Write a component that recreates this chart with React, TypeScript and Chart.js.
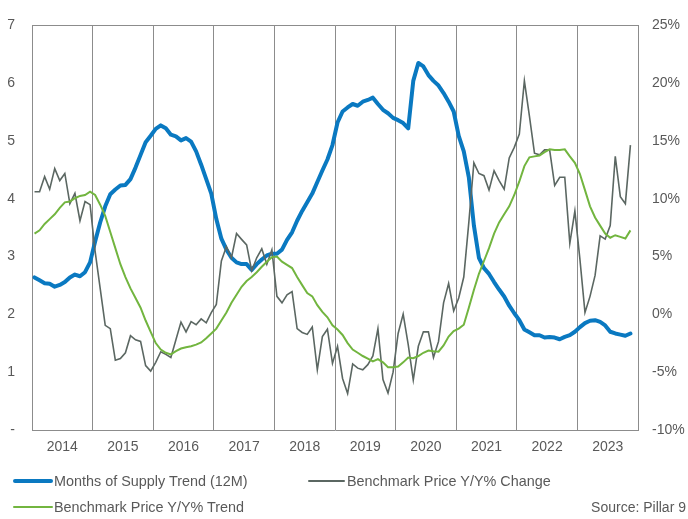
import React, { useEffect, useRef } from 'react';
import { Chart, registerables } from 'chart.js';

Chart.register(...registerables);

// Year labels (one per 12-month segment, Jan 2014 .. Nov 2023 monthly data)
const years = ['2014', '2015', '2016', '2017', '2018', '2019', '2020', '2021', '2022', '2023'];

// Months of Supply Trend (12M) - left axis
const supplyTrend = [
  2.64, 2.59, 2.54, 2.53, 2.48, 2.51, 2.56, 2.64, 2.69, 2.66, 2.73, 2.90,
  3.26, 3.59, 3.87, 4.08, 4.16, 4.23, 4.24, 4.34, 4.54, 4.76, 4.98, 5.09,
  5.21, 5.27, 5.22, 5.11, 5.08, 5.01, 5.05, 4.99, 4.82, 4.59, 4.34, 4.09,
  3.65, 3.31, 3.12, 2.98, 2.90, 2.87, 2.87, 2.77, 2.87, 2.95, 3.02, 3.05,
  3.05, 3.12, 3.29, 3.42, 3.62, 3.79, 3.94, 4.09, 4.29, 4.49, 4.68, 4.93,
  5.32, 5.51, 5.58, 5.64, 5.61, 5.68, 5.71, 5.75, 5.64, 5.54, 5.48, 5.40,
  5.36, 5.31, 5.22, 6.04, 6.35, 6.29, 6.14, 6.04, 5.96, 5.83, 5.68, 5.51,
  5.09, 4.82, 4.37, 3.54, 2.98, 2.80, 2.70, 2.56, 2.43, 2.31, 2.15, 2.02,
  1.90, 1.74, 1.69, 1.64, 1.64, 1.60, 1.61, 1.60, 1.57, 1.61, 1.64, 1.70,
  1.78, 1.85, 1.89, 1.90, 1.87, 1.81, 1.70, 1.67, 1.65, 1.63, 1.67,
];

// Benchmark Price Y/Y% Change - right axis
const priceChange = [
  10.61, 10.61, 11.92, 10.83, 12.61, 11.58, 12.19, 9.58, 10.47, 8.10, 9.77, 9.49,
  5.46, 2.25, -0.95, -1.23, -3.96, -3.82, -3.32, -1.84, -2.20, -2.34, -4.43, -4.90,
  -4.15, -3.23, -3.46, -3.73, -2.20, -0.67, -1.51, -0.62, -0.89, -0.39, -0.73, 0.16,
  0.86, 4.62, 5.87, 4.90, 6.99, 6.49, 6.01, 3.78, 4.90, 5.68, 4.34, 5.59,
  1.56, 1.00, 1.70, 1.97, -1.23, -1.56, -1.73, -1.09, -4.79, -1.92, -1.28, -4.24,
  -2.76, -5.54, -6.85, -4.29, -4.65, -4.79, -4.35, -3.60, -1.23, -5.63, -6.80, -5.00,
  -1.65, 0.03, -2.62, -5.68, -2.76, -1.51, -1.51, -3.73, -2.34, 1.00, 2.67, 0.30,
  1.42, 3.23, 7.96, 13.11, 12.19, 12.00, 10.75, 12.42, 11.58, 10.83, 13.53, 14.45,
  15.60, 20.21, 17.15, 13.95, 13.81, 14.23, 14.23, 11.16, 11.86, 11.86, 6.15, 8.94,
  4.76, 0.16, 1.56, 3.37, 6.79, 6.51, 7.68, 13.67, 10.19, 9.58, 14.64,
];

// Benchmark Price Y/Y% Trend - right axis
const priceTrend = [
  6.99, 7.27, 7.82, 8.24, 8.66, 9.21, 9.69, 9.77, 10.05, 10.25, 10.33, 10.61,
  10.33, 9.49, 8.52, 7.13, 5.73, 4.34, 3.23, 2.25, 1.42, 0.58, -0.53, -1.51,
  -2.48, -3.04, -3.32, -3.46, -3.18, -2.95, -2.84, -2.76, -2.62, -2.43, -2.06, -1.65,
  -1.23, -0.53, 0.16, 1.00, 1.70, 2.39, 2.89, 3.23, 3.65, 4.12, 4.56, 4.95,
  5.00, 4.56, 4.29, 4.01, 3.23, 2.53, 1.84, 1.56, 0.80, 0.22, -0.25, -0.95,
  -1.31, -1.78, -2.48, -3.04, -3.32, -3.60, -3.82, -4.07, -3.87, -4.15, -4.57, -4.57,
  -4.51, -4.15, -3.73, -3.79, -3.60, -3.32, -3.12, -3.18, -3.23, -2.68, -1.92, -1.45,
  -1.23, -0.89, 0.58, 2.11, 3.51, 4.62, 5.73, 6.99, 7.96, 8.66, 9.35, 10.33,
  11.50, 12.83, 13.59, 13.67, 13.75, 14.03, 14.28, 14.23, 14.23, 14.28, 13.67, 13.11,
  12.14, 10.75, 9.35, 8.38, 7.68, 6.99, 6.63, 6.85, 6.71, 6.57, 7.27,
];

const seriesNames = ['Months of Supply Trend (12M)', 'Benchmark Price Y/Y% Change', 'Benchmark Price Y/Y% Trend'];
const sourceText = 'Source: Pillar 9';

const BLUE = '#0a79c1';
const GRAY = '#5b6762';
const GREEN = '#72b53f';
const FRAME = '#8c8c8c';
const TEXT = '#595959';
const FONT = '"Liberation Sans", Arial, sans-serif';

const toPoints = (arr: number[]) => arr.map((v, i) => ({ x: i + 0.5, y: v }));

export default function App() {
  const canvasRef = useRef<HTMLCanvasElement | null>(null);

  useEffect(() => {
    document.body.style.margin = '0';
    const canvas = canvasRef.current;
    if (!canvas) return;
    const font = { family: FONT, size: 14 };
    const chart = new Chart(canvas, {
      type: 'line',
      data: {
        datasets: [
          {
            label: seriesNames[0],
            data: toPoints(supplyTrend),
            yAxisID: 'y',
            borderColor: BLUE,
            borderWidth: 4,
            pointRadius: 0,
            tension: 0,
            borderJoinStyle: 'round',
            borderCapStyle: 'round',
            order: 3,
          },
          {
            label: seriesNames[1],
            data: toPoints(priceChange),
            yAxisID: 'y1',
            borderColor: GRAY,
            borderWidth: 1.6,
            pointRadius: 0,
            tension: 0,
            order: 2,
          },
          {
            label: seriesNames[2],
            data: toPoints(priceTrend),
            yAxisID: 'y1',
            borderColor: GREEN,
            borderWidth: 2,
            pointRadius: 0,
            tension: 0,
            order: 1,
          },
        ],
      },
      options: {
        animation: false,
        responsive: false,
        devicePixelRatio: 1,
        layout: { padding: { top: 11, bottom: 59, left: 0, right: 0 } },
        plugins: { legend: { display: false }, tooltip: { enabled: false } },
        scales: {
          x: {
            type: 'linear',
            min: 0,
            max: years.length * 12,
            afterBuildTicks: (s: any) => {
              const t = [];
              for (let k = 0; k <= years.length * 2; k++) t.push({ value: k * 6 });
              s.ticks = t;
            },
            afterFit: (s: any) => {
              s.height = 30;
            },
            grid: {
              color: (ctx: any) => (ctx.tick && ctx.tick.value % 12 === 0 ? FRAME : 'rgba(0,0,0,0)'),
              drawTicks: false,
              lineWidth: 1,
            },
            border: { display: true, color: FRAME, width: 1 },
            ticks: {
              autoSkip: false,
              maxRotation: 0,
              minRotation: 0,
              padding: 9,
              color: TEXT,
              font,
              callback: (v: any) => (v % 12 === 6 ? years[(v - 6) / 12] : ''),
            },
          },
          y: {
            position: 'left',
            min: 0,
            max: 7,
            afterFit: (s: any) => {
              s.width = 32;
            },
            grid: {
              color: (ctx: any) => (ctx.tick && ctx.tick.value === 7 ? FRAME : 'rgba(0,0,0,0)'),
              drawTicks: false,
            },
            border: { display: true, color: FRAME, width: 1 },
            ticks: {
              stepSize: 1,
              padding: 17,
              color: TEXT,
              font,
              callback: (v: any) => (v === 0 ? '-' : String(v)),
            },
          },
          y1: {
            position: 'right',
            min: -10,
            max: 25,
            afterFit: (s: any) => {
              s.width = 50;
            },
            grid: { display: false, drawTicks: false },
            border: { display: true, color: FRAME, width: 1 },
            ticks: {
              stepSize: 5,
              padding: 14,
              color: TEXT,
              font,
              callback: (v: any) => `${v}%`,
            },
          },
        },
      },
    } as any);
    return () => chart.destroy();
  }, []);

  const textStyle: React.CSSProperties = {
    position: 'absolute',
    fontFamily: FONT,
    fontSize: 14.4,
    color: TEXT,
    lineHeight: '18px',
    whiteSpace: 'nowrap',
  };
  const sample = (left: number, top: number, width: number, height: number, color: string): React.CSSProperties => ({
    position: 'absolute',
    left,
    top,
    width,
    height,
    background: color,
    borderRadius: height / 2,
  });

  return (
    <div style={{ position: 'relative', width: 688, height: 519, background: '#fff', overflow: 'hidden' }}>
      <canvas ref={canvasRef} width={688} height={519} style={{ position: 'absolute', left: 0, top: 0, width: 688, height: 519 }} />
      <div style={sample(13, 479, 40, 4, BLUE)} />
      <div style={{ ...textStyle, left: 54, top: 472 }}>{seriesNames[0]}</div>
      <div style={sample(308, 480, 37, 2, GRAY)} />
      <div style={{ ...textStyle, left: 347, top: 472 }}>{seriesNames[1]}</div>
      <div style={sample(13, 506, 40, 2, GREEN)} />
      <div style={{ ...textStyle, left: 54, top: 498 }}>{seriesNames[2]}</div>
      <div style={{ ...textStyle, fontSize: 14, right: 2, top: 498 }}>{sourceText}</div>
    </div>
  );
}
